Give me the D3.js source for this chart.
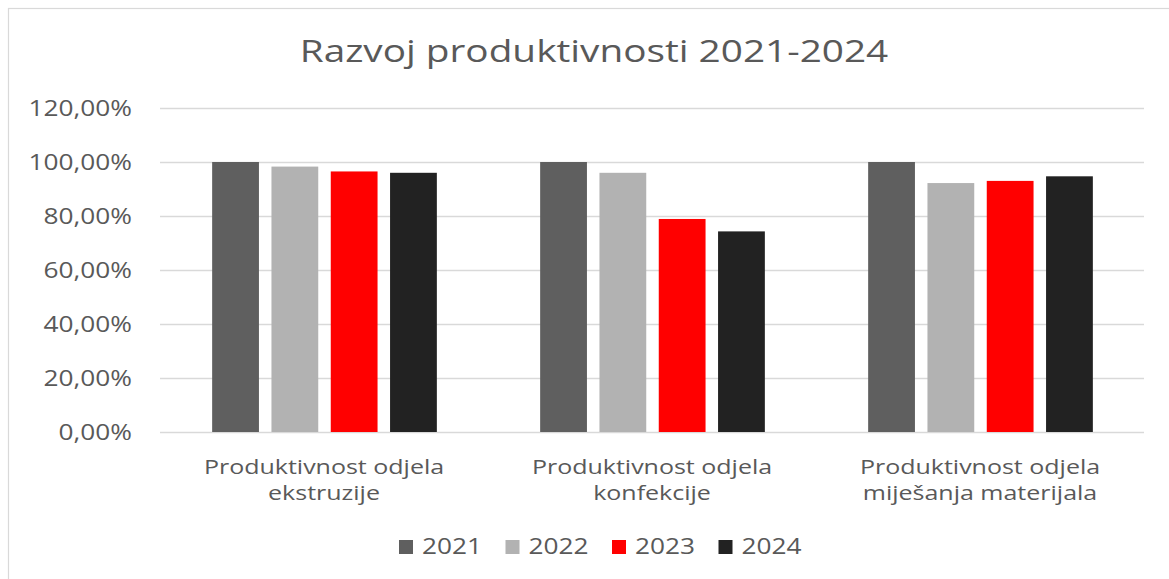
<!DOCTYPE html>
<html>
<head>
<meta charset="utf-8">
<script src="https://cdn.jsdelivr.net/npm/d3@7"></script>
<style>
body { margin: 0; background: #fff; }
svg text { font-family: "Open Sans", "Noto Sans", sans-serif; fill: #595959; }
</style>
</head>
<body>
<div id="chart"></div>
<script>
const categories = [
  ["Produktivnost odjela", "ekstruzije"],
  ["Produktivnost odjela", "konfekcije"],
  ["Produktivnost odjela", "miješanja materijala"]
];
const years = ["2021", "2022", "2023", "2024"];
const colors = ["#5f5f5f", "#b2b2b2", "#ff0000", "#222222"];
const v2021 = [1.00, 1.00, 1.00];
const v2022 = [0.983, 0.960, 0.922];
const v2023 = [0.965, 0.789, 0.930];
const v2024 = [0.960, 0.743, 0.947];
const yTicks = [0, 0.2, 0.4, 0.6, 0.8, 1.0, 1.2];

const series = [v2021, v2022, v2023, v2024];
const W = 1169, H = 579;
const SX = 1.25; // reference text is wider than Open Sans
const svg = d3.select('#chart').append('svg').attr('width', W).attr('height', H);

function label(parent, x, y, txt, size, anchor) {
  return parent.append('text')
    .attr('transform', `translate(${x},${y}) scale(${SX},1)`)
    .attr('text-anchor', anchor || 'start')
    .style('font-size', size + 'px')
    .text(txt);
}

svg.append('rect').attr('x', 8.5).attr('y', 8.5).attr('width', W + 10).attr('height', H + 10)
  .attr('fill', '#fff').attr('stroke', '#d9d9d9').attr('stroke-width', 1.2);

label(svg, 594, 62, 'Razvoj produktivnosti 2021-2024', 31, 'middle');

const plotL = 160, plotR = 1144, plotT = 108, plotB = 432;
const y = d3.scaleLinear().domain([0, 1.2]).range([plotB, plotT]);
const x0 = d3.scaleBand().domain(d3.range(categories.length)).range([plotL, plotR]);
const groupW = x0.bandwidth();
const spanW = 224.7;
const x1 = d3.scaleBand().domain(years).range([0, spanW]).paddingInner(0.211).paddingOuter(0);
const offset = (groupW - spanW) / 2 + 0.5;

const fmt = v => d3.format('.2f')(v * 100).replace('.', ',') + '%';

svg.append('g').selectAll('line').data(yTicks).enter().append('line')
  .attr('x1', plotL).attr('x2', plotR)
  .attr('y1', d => Math.round(y(d)) + 0.5).attr('y2', d => Math.round(y(d)) + 0.5)
  .attr('stroke', '#d9d9d9').attr('stroke-width', 1.5);

const ticks = svg.append('g');
yTicks.forEach(d => label(ticks, 132, y(d) + 7.5, fmt(d), 21, 'end'));

years.forEach((yr, si) => {
  svg.append('g').selectAll('rect').data(series[si]).enter().append('rect')
    .attr('x', (d, i) => x0(i) + offset + x1(yr))
    .attr('width', x1.bandwidth())
    .attr('y', d => y(d))
    .attr('height', d => plotB - y(d))
    .attr('fill', colors[si]);
});

const cat = svg.append('g');
categories.forEach((lines, i) => {
  lines.forEach((ln, j) => {
    label(cat, x0(i) + groupW / 2, 474 + j * 26, ln, 20, 'middle');
  });
});

const leg = svg.append('g');
years.forEach((yr, i) => {
  const lx = 399 + i * 106.5;
  leg.append('rect').attr('x', lx).attr('y', 540).attr('width', 14).attr('height', 14).attr('fill', colors[i]);
  label(leg, lx + 23, 554, yr, 21, 'start');
});
</script>
</body>
</html>
